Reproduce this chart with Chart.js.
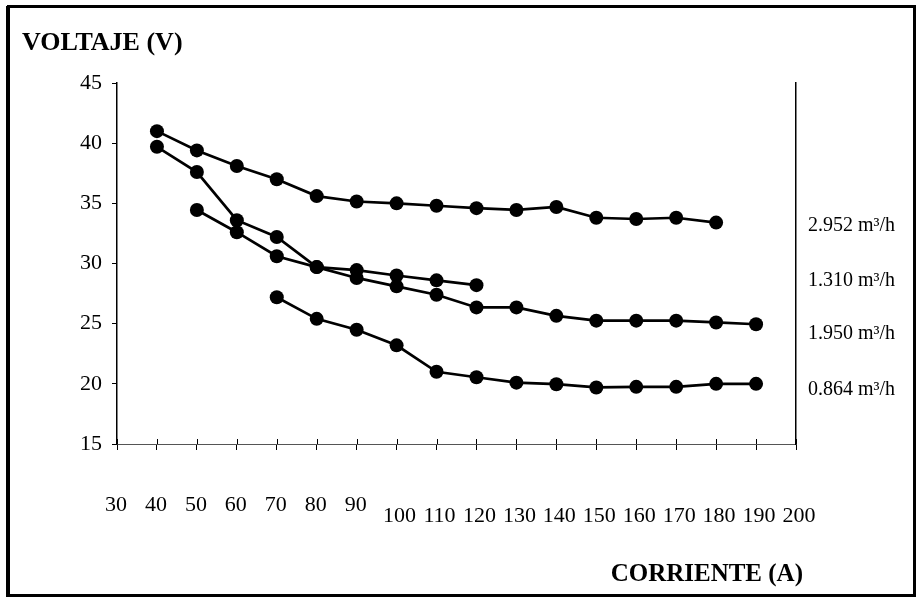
<!DOCTYPE html>
<html>
<head>
<meta charset="utf-8">
<script src="https://cdn.jsdelivr.net/npm/chart.js@4/dist/chart.umd.min.js"></script>
<style>
  html, body { margin: 0; padding: 0; background: #fff; }
  #wrap { position: relative; width: 919px; height: 599px; }
  canvas { display: block; }
</style>
</head>
<body>
<div id="wrap"><canvas id="c" width="919" height="599"></canvas></div>
<script>
// ---- data ----
const yTitle = 'VOLTAJE (V)';
const xTitle = 'CORRIENTE (A)';
const xTickLabels = [30, 40, 50, 60, 70, 80, 90, 100, 110, 120, 130, 140, 150, 160, 170, 180, 190, 200];
const yTickLabels = [15, 20, 25, 30, 35, 40, 45];

const seriesNames = ['2.952 m³/h', '1.310 m³/h', '1.950 m³/h', '0.864 m³/h'];

const current2952 = [40, 50, 60, 70, 80, 90, 100, 110, 120, 130, 140, 150, 160, 170, 180];
const voltage2952 = [41.0, 39.4, 38.1, 37.0, 35.6, 35.15, 35.0, 34.8, 34.6, 34.45, 34.7, 33.8, 33.7, 33.8, 33.4];

const current1310 = [40, 50, 60, 70, 80, 90, 100, 110, 120];
const voltage1310 = [39.7, 37.6, 33.6, 32.2, 29.7, 29.45, 29.0, 28.6, 28.2];

const current1950 = [50, 60, 70, 80, 90, 100, 110, 120, 130, 140, 150, 160, 170, 180, 190];
const voltage1950 = [34.45, 32.6, 30.6, 29.7, 28.8, 28.1, 27.4, 26.35, 26.35, 25.65, 25.25, 25.25, 25.25, 25.1, 24.95];

const current0864 = [70, 80, 90, 100, 110, 120, 130, 140, 150, 160, 170, 180, 190];
const voltage0864 = [27.2, 25.4, 24.5, 23.2, 21.0, 20.55, 20.1, 19.97, 19.7, 19.75, 19.75, 20.0, 20.0];

function pts(xs, ys) { return xs.map((x, i) => ({ x: x, y: ys[i] })); }

const serif = "'Liberation Serif', 'Times New Roman', serif";

const ds = (name, xs, ys) => ({
  label: name,
  data: pts(xs, ys),
  borderColor: '#000',
  backgroundColor: '#000',
  borderWidth: 2.7,
  pointRadius: 7,
  pointBackgroundColor: '#000',
  pointBorderColor: '#000',
  pointBorderWidth: 0,
  tension: 0,
  fill: false
});

const labelPlugin = {
  id: 'labels',
  afterDraw(chart) {
    const ctx = chart.ctx;
    const xs = chart.scales.x;
    const ys = chart.scales.y;
    ctx.save();
    ctx.fillStyle = '#000';
    ctx.strokeStyle = '#000';

    // upward parts of the x tick marks (cross ticks)
    ctx.lineWidth = 1;
    xTickLabels.forEach(v => {
      const px = Math.round(xs.getPixelForValue(v)) + 0.5;
      ctx.beginPath();
      ctx.moveTo(px, ys.bottom - 5);
      ctx.lineTo(px, ys.bottom);
      ctx.stroke();
    });

    // x tick labels (two staggered rows as in the reference)
    ctx.font = '22px ' + serif;
    ctx.textAlign = 'center';
    ctx.textBaseline = 'alphabetic';
    xTickLabels.forEach(v => {
      const px = xs.getPixelForValue(v);
      if (v < 100) ctx.fillText(String(v), px - 1, 511);
      else ctx.fillText(String(v), px + 3, 522);
    });

    // titles
    ctx.font = 'bold 26px ' + serif;
    ctx.textAlign = 'left';
    ctx.fillText(yTitle, 22, 50);
    ctx.textAlign = 'right';
    ctx.font = 'bold 25px ' + serif;
    ctx.fillText(xTitle, 803, 581);

    // series labels on the right
    ctx.font = '20px ' + serif;
    ctx.textAlign = 'left';
    const baselines = [231, 286, 339, 395];
    seriesNames.forEach((n, i) => ctx.fillText(n, 808, baselines[i]));

    // outer frame
    ctx.lineWidth = 3;
    ctx.strokeRect(8.5, 6.5, 906, 589);
    ctx.lineWidth = 2;
    ctx.beginPath();
    ctx.moveTo(7, 6); ctx.lineTo(7, 597);
    ctx.stroke();
    ctx.restore();
  }
};

new Chart(document.getElementById('c'), {
  type: 'line',
  data: {
    datasets: [
      ds(seriesNames[0], current2952, voltage2952),
      ds(seriesNames[1], current1310, voltage1310),
      ds(seriesNames[2], current1950, voltage1950),
      ds(seriesNames[3], current0864, voltage0864)
    ]
  },
  options: {
    responsive: false,
    animation: false,
    devicePixelRatio: 1,
    layout: { padding: { left: 17, top: 83, right: 0, bottom: 0 } },
    plugins: {
      legend: { display: false },
      title: { display: false },
      tooltip: { enabled: false }
    },
    scales: {
      x: {
        type: 'linear',
        min: xTickLabels[0],
        max: xTickLabels[xTickLabels.length - 1],
        afterBuildTicks: (s) => { s.ticks = xTickLabels.map(v => ({ value: v })); },
        afterFit: (s) => { s.height = 155; },
        ticks: { display: false },
        grid: { display: true, drawOnChartArea: false, drawTicks: true, tickLength: 6, color: '#000', lineWidth: 1 },
        border: { display: true, color: '#555', width: 1 }
      },
      y: {
        type: 'linear',
        position: 'left',
        min: yTickLabels[0],
        max: yTickLabels[yTickLabels.length - 1],
        afterBuildTicks: (s) => { s.ticks = yTickLabels.map(v => ({ value: v })); },
        afterFit: (s) => { s.width = 100; },
        ticks: { color: '#000', font: { family: serif, size: 22 }, padding: 10 },
        grid: { display: true, drawOnChartArea: false, drawTicks: true, tickLength: 5, color: '#000', lineWidth: 1 },
        border: { display: true, color: '#000', width: 1.5 }
      },
      y2: {
        type: 'linear',
        position: 'right',
        min: yTickLabels[0],
        max: yTickLabels[yTickLabels.length - 1],
        afterFit: (s) => { s.width = 123; },
        ticks: { display: false },
        grid: { display: false },
        border: { display: true, color: '#000', width: 1.5 }
      }
    }
  },
  plugins: [labelPlugin]
});
</script>
</body>
</html>
